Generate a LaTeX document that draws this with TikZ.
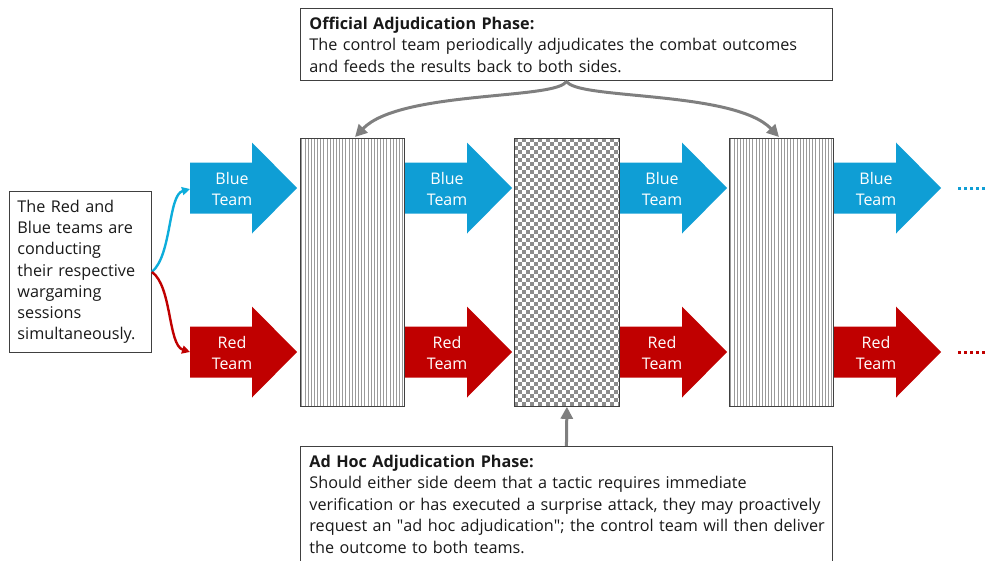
\documentclass[tikz,border=0pt]{standalone}
\usepackage{fontspec}
\setmainfont{Open Sans}
\usetikzlibrary{arrows.meta}
\definecolor{teamblue}{HTML}{0F9ED5}
\definecolor{teamred}{HTML}{C00000}
\definecolor{linkgray}{HTML}{7F7F7F}
\definecolor{framegray}{HTML}{404040}
\definecolor{stripegray}{HTML}{9A9A9A}
\definecolor{checkgray}{HTML}{8C8C8C}

\begin{document}
\begin{tikzpicture}[x=1pt,y=-1pt,
  textbox/.style={draw=framegray, line width=0.9pt, fill=white, align=left,
    inner xsep=9pt, inner ysep=4pt, anchor=north west, text=black!90,
    font=\fontsize{16.2}{21.5}\selectfont},
  teamlabel/.style={text=white, align=center, font=\fontsize{16}{21}\selectfont},
  phaseframe/.style={draw=framegray, line width=0.8pt, anchor=north west, inner sep=0pt,
    minimum width=104pt, minimum height=268pt},
  graylink/.style={draw=linkgray, line width=3pt, -{Triangle[length=12pt,width=12pt]}},
  stripe/.style={draw=stripegray, line width=0.9pt},
  sidelink/.style={line width=2.4pt, -{Triangle[length=8pt,width=8pt]}},
  trail/.style={line width=3pt, dash pattern=on 3pt off 3pt},
]
\useasboundingbox (0,0) rectangle (988,560);

% striped adjudication column (left)
\foreach \k in {0,...,32} \draw[stripe] ({301.8+\k*3.15},138) -- ++(0,268);
\node[phaseframe] (adjA) at (300,138) {};

% checkered ad hoc column (middle)
\begin{scope}
  \clip (514,138) rectangle (619,406);
  \foreach \i in {0,...,26}{
    \foreach \j in {0,...,67}{
      \ifodd\numexpr\i+\j\relax\else
        \fill[checkgray] ({514+4*\i},{138+4*\j}) rectangle ++(4,4);
      \fi
    }
  }
\end{scope}
\node[phaseframe, minimum width=105pt] (adjB) at (514,138) {};

% striped adjudication column (right)
\foreach \k in {0,...,32} \draw[stripe] ({730.8+\k*3.15},138) -- ++(0,268);
\node[phaseframe] (adjC) at (729,138) {};

% team arrows
\foreach \x/\n in {190/1,405/2,620/3,834/4}{
  \fill[teamblue] (\x,188) ++(0,-25.5) -- ++(62,0) -- ++(0,-20) -- ++(45,45.5)
    -- ++(-45,45.5) -- ++(0,-20) -- ++(-62,0) -- cycle;
  \node[teamlabel] (blue\n) at (\x+42,188.5) {Blue\\Team};
  \fill[teamred] (\x,352) ++(0,-25.5) -- ++(62,0) -- ++(0,-20) -- ++(45,45.5)
    -- ++(-45,45.5) -- ++(0,-20) -- ++(-62,0) -- cycle;
  \node[teamlabel] (red\n) at (\x+42,352.5) {Red\\Team};
}

% continuation trails
\coordinate (blueA) at (958,188);
\coordinate (blueB) at (988,188);
\coordinate (redA) at (958,352);
\coordinate (redB) at (988,352);
\draw[trail, teamblue] (blueA) -- (blueB);
\draw[trail, teamred] (redA) -- (redB);

% explanation boxes (each line kept whole with \mbox)
\node[textbox, inner ysep=3pt, text width=514pt, minimum width=532pt, minimum height=72pt] (official) at (300,8)
  {\mbox{\textbf{Official Adjudication Phase:}}\\
   \mbox{The control team periodically adjudicates the combat outcomes}\\
   \mbox{and feeds the results back to both sides.}};

\node[textbox, inner xsep=8pt, text width=126pt, minimum width=142pt, minimum height=161pt,
      font=\fontsize{16.2}{21.2}\selectfont] (teams) at (9,191)
  {\mbox{The Red and}\\ \mbox{Blue teams are}\\ \mbox{conducting}\\ \mbox{their respective}\\
   \mbox{wargaming}\\ \mbox{sessions}\\ \mbox{simultaneously.}};

\node[textbox, inner ysep=8.5pt, text width=514pt, minimum width=532pt] (adhoc) at (300,446)
  {\mbox{\textbf{Ad Hoc Adjudication Phase:}}\\
   \mbox{Should either side deem that a tactic requires immediate}\\
   \mbox{verification or has executed a surprise attack, they may proactively}\\
   \mbox{request an \textquotedbl ad hoc adjudication\textquotedbl; the control team will then deliver}\\
   \mbox{the outcome to both teams.}};

% links from the teams box to both starting arrows
\coordinate (blueTail) at (190,189);
\coordinate (redTail) at (190,352);
\draw[sidelink, draw=teamblue!85!cyan] (teams.east) .. controls (172,255) and (168,195) .. (blueTail);
\draw[sidelink, draw=teamred] (teams.east) .. controls (172,286) and (168,345) .. (redTail);

% adjudication feedback links
\coordinate (adjAtop) at (355,137);
\coordinate (adjCtop) at (779,137);
\draw[graylink] (official.south) .. controls (560,100) and (400,90) .. (adjAtop);
\draw[graylink] (official.south) .. controls (574,100) and (734,90) .. (adjCtop);
\draw[graylink] (adhoc.north) -- (adjB.south);
\end{tikzpicture}
\end{document}
